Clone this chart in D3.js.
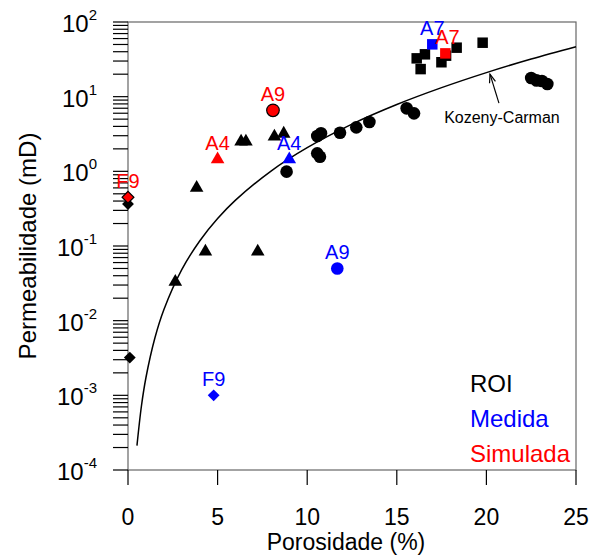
<!DOCTYPE html>
<html>
<head>
<meta charset="utf-8">
<script src="https://cdn.jsdelivr.net/npm/d3@7"></script>
<style>
  body { margin: 0; background: #fff; }
  text { font-family: "Liberation Sans", Arial, sans-serif; }
</style>
</head>
<body>
<script>
// ROI (preto)
const roiCircPhi = [8.85, 10.56, 10.71, 10.56, 10.77, 11.83, 12.74, 13.47, 15.55, 15.96, 22.5, 22.8, 23.1, 23.4];
const roiCircK = [0.99, 1.74, 1.57, 2.97, 3.23, 3.29, 3.88, 4.58, 6.98, 5.98, 17.8, 16.5, 16.2, 14.8];
const roiTriPhi = [2.64, 3.83, 4.32, 7.24, 6.31, 6.58, 8.17, 8.69];
const roiTriK = [0.033, 0.60, 0.084, 0.084, 2.5, 2.5, 2.91, 3.19];
const roiSqPhi = [16.11, 16.57, 16.33, 17.49, 17.75, 18.34, 19.79];
const roiSqK = [32.6, 36.9, 23.4, 28.9, 35.4, 45.3, 52.8];
const roiDiaPhi = [0, 0.1];
const roiDiaK = [0.365, 0.0032];

// amostras
const amostras = ["F9", "A4", "A9", "A7"];
const formas = ["diamond", "triangle", "circle", "square"];
const medidaPhi = [4.78, 9.0, 11.68, 16.98];
const medidaK = [0.001, 1.45, 0.05, 50.2];
const simuladaPhi = [0, 5.0, 8.09, 17.71];
const simuladaK = [0.45, 1.45, 6.56, 38];

// Kozeny-Carman
const kcPhi = [0.5, 0.75, 1, 1.5, 2, 3, 4, 5, 6, 8, 10, 12.5, 15, 17.5, 20, 22.5, 25];
const kcK = [0.000212, 0.00072, 0.00172, 0.00585, 0.014, 0.0482, 0.1167, 0.233, 0.411, 1.017, 2.075, 4.29, 7.85, 13.2, 21.0, 31.9, 46.7];

const xTicks = [0, 5, 10, 15, 20, 25];
const yExps = [-4, -3, -2, -1, 0, 1, 2];

const width = 598, height = 555;
const margin = { left: 128, top: 22, right: 22, bottom: 85 };

const svg = d3.select('body').append('svg')
    .attr('width', width)
    .attr('height', height);

const x = d3.scaleLinear().domain([0, 25]).range([margin.left, width - margin.right]);
const y = d3.scaleLog().domain([1e-4, 1e2]).range([height - margin.bottom, margin.top]);

const x0 = x(0), x1 = x(25), y0 = y(1e-4), y1 = y(1e2);

// frame
svg.append('rect')
    .attr('x', x0).attr('y', y1)
    .attr('width', x1 - x0).attr('height', y0 - y1)
    .attr('fill', 'none')
    .attr('stroke', '#666')
    .attr('stroke-width', 1.2);

// x ticks
let gx = svg.append('g');
gx.selectAll('line').data(xTicks).enter().append('line')
    .attr('x1', (d) => x(d)).attr('x2', (d) => x(d))
    .attr('y1', y0).attr('y2', y0 + 15)
    .attr('stroke', '#000').attr('stroke-width', 1.2);
gx.selectAll('text').data(xTicks).enter().append('text')
    .attr('x', (d) => x(d)).attr('y', y0 + 55)
    .attr('text-anchor', 'middle')
    .style('font-size', '23px')
    .text((d) => d);

// y ticks (major + minor)
let yTickVals = [];
yExps.forEach((e) => {
    if (e < 2) for (let m = 1; m < 10; m++) yTickVals.push(m * Math.pow(10, e));
    else yTickVals.push(100);
});
svg.append('g').selectAll('line').data(yTickVals).enter().append('line')
    .attr('x1', x0 - 15).attr('x2', x0)
    .attr('y1', (d) => y(d)).attr('y2', (d) => y(d))
    .attr('stroke', '#000').attr('stroke-width', 1.2);

let ylab = svg.append('g').selectAll('text').data(yExps).enter().append('text')
    .attr('x', 97).attr('y', (d) => y(Math.pow(10, d)) + 10)
    .attr('text-anchor', 'end');
ylab.append('tspan').style('font-size', '24px').text('10');
ylab.append('tspan').style('font-size', '15px').attr('dy', -12).text((d) => d);

// axis titles
svg.append('text')
    .attr('x', 346).attr('y', 550)
    .attr('text-anchor', 'middle')
    .style('font-size', '23px')
    .text('Porosidade (%)');
svg.append('text')
    .attr('transform', 'translate(36,' + ((y0 + y1) / 2) + ') rotate(-90)')
    .attr('text-anchor', 'middle')
    .style('font-size', '24px')
    .text('Permeabilidade (mD)');

// Kozeny-Carman curve
const kc = kcPhi.map((p, i) => [x(p), y(kcK[i])]);
svg.append('path')
    .attr('d', d3.line().curve(d3.curveCatmullRom)(kc))
    .attr('fill', 'none')
    .attr('stroke', '#000')
    .attr('stroke-width', 1.5);

// annotation
const tip = [x(20.2), y(20)], tail = [x(20.7), y(8.2)];
svg.append('line')
    .attr('x1', tail[0]).attr('y1', tail[1]).attr('x2', tip[0]).attr('y2', tip[1])
    .attr('stroke', '#000').attr('stroke-width', 1.2);
const ang = Math.atan2(tip[1] - tail[1], tip[0] - tail[0]);
const ah = [ang + Math.PI - 0.35, ang + Math.PI + 0.35].map((a) => [tip[0] + 9 * Math.cos(a), tip[1] + 9 * Math.sin(a)]);
svg.append('path')
    .attr('d', 'M' + ah[0] + 'L' + tip + 'L' + ah[1])
    .attr('fill', 'none').attr('stroke', '#000').attr('stroke-width', 1.2);
svg.append('text')
    .attr('x', tail[0] + 3).attr('y', tail[1] + 20)
    .attr('text-anchor', 'middle')
    .style('font-size', '16px')
    .text('Kozeny-Carman');

// markers
const sym = {
    circle: d3.symbol().type(d3.symbolCircle).size(125),
    triangle: d3.symbol().type(d3.symbolTriangle).size(80),
    square: d3.symbol().type(d3.symbolSquare).size(110),
    diamond: d3.symbol().type(d3.symbolSquare).size(70)
};

function drawMarks(phi, k, shape, fill, stroke) {
    svg.append('g').selectAll('path').data(phi).enter().append('path')
        .attr('transform', (d, i) => 'translate(' + x(d) + ',' + y(k[i]) + ')' + (shape == 'diamond' ? ' rotate(45)' : ''))
        .attr('d', sym[shape]())
        .attr('fill', fill)
        .attr('stroke', stroke || 'none')
        .attr('stroke-width', 1.2);
}

drawMarks(roiCircPhi, roiCircK, 'circle', '#000');
drawMarks(roiTriPhi, roiTriK, 'triangle', '#000');
drawMarks(roiSqPhi, roiSqK, 'square', '#000');
drawMarks(roiDiaPhi, roiDiaK, 'diamond', '#000');

amostras.forEach((nome, i) => {
    drawMarks([simuladaPhi[i]], [simuladaK[i]], formas[i], '#ff0000',
        (formas[i] == 'circle' || formas[i] == 'diamond') ? '#000' : null);
    drawMarks([medidaPhi[i]], [medidaK[i]], formas[i], '#0000ff');
});

// point labels
svg.append('g').selectAll('text').data(amostras).enter().append('text')
    .attr('x', (d, i) => x(simuladaPhi[i]) + (d == 'A7' ? 2 : 0))
    .attr('y', (d, i) => y(simuladaK[i]) - 9)
    .attr('text-anchor', 'middle')
    .attr('fill', '#ff0000')
    .style('font-size', '20px')
    .text((d) => d);
svg.append('g').selectAll('text').data(amostras).enter().append('text')
    .attr('x', (d, i) => x(medidaPhi[i]))
    .attr('y', (d, i) => y(medidaK[i]) - 9)
    .attr('text-anchor', 'middle')
    .attr('fill', '#0000ff')
    .style('font-size', '20px')
    .text((d) => d);

// legend
const legenda = ['ROI', 'Medida', 'Simulada'];
const legCores = ['#000', '#0000ff', '#ff0000'];
svg.append('g').selectAll('text').data(legenda).enter().append('text')
    .attr('x', 470)
    .attr('y', (d, i) => 392 + i * 35)
    .attr('fill', (d, i) => legCores[i])
    .style('font-size', '24px')
    .text((d) => d);
</script>
</body>
</html>
